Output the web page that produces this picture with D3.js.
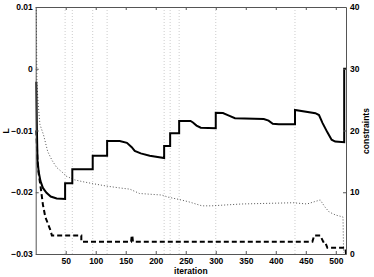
<!DOCTYPE html>
<html>
<head>
<meta charset="utf-8">
<script src="https://cdn.jsdelivr.net/npm/d3@7"></script>
<style>
  body { margin: 0; background: #fff; }
  svg text { font-family: "Liberation Sans", Arial, sans-serif; font-weight: bold; font-size: 8.5px; fill: #000; }
</style>
</head>
<body>
<svg id="chart" width="374" height="277"></svg>
<script>
// L (left axis)
var lIter = [1, 2, 3, 5, 8, 12, 18, 25, 35, 49, 49, 61, 61, 95, 95, 119, 119, 140, 152, 160, 165, 175, 190, 214, 214, 224, 224, 239, 239, 258, 262, 268, 275, 300, 300, 312, 320, 332, 380, 388, 395, 405, 432, 432, 466, 472, 478, 486, 493, 499, 514, 514, 517];
var lValue = [-0.0021, -0.0099, -0.0148, -0.0167, -0.0182, -0.0193, -0.0201, -0.0207, -0.0210, -0.0211, -0.01855, -0.01855, -0.01628, -0.01628, -0.01408, -0.01408, -0.0117, -0.0117, -0.0120, -0.0127, -0.0133, -0.0137, -0.0141, -0.01445, -0.01251, -0.01251, -0.01045, -0.01045, -0.00846, -0.00846, -0.0087, -0.0092, -0.00955, -0.00964, -0.00712, -0.00718, -0.0075, -0.0080, -0.00815, -0.0084, -0.0089, -0.0090, -0.0090, -0.00668, -0.0072, -0.0075, -0.0088, -0.0103, -0.0115, -0.0118, -0.0119, 0, 0];

// dotted series (right axis)
var dotIter = [1, 2, 4, 7, 13, 20, 27, 35, 46, 51, 65, 79, 95, 118, 140, 157, 166, 173, 195, 210, 221, 238, 255, 277, 293, 343, 429, 452, 474, 482, 489, 500, 512, 513];
var dotValue = [40, 27.7, 24.5, 21, 19.3, 16.6, 15.2, 14.0, 13.1, 12.6, 12.0, 11.7, 11.4, 11.0, 10.7, 10.5, 10.1, 9.8, 9.65, 9.55, 9.2, 8.85, 8.45, 7.8, 7.8, 8.1, 8.3, 8.1, 8.75, 7.6, 6.8, 6.3, 6.0, 0.2];

// dashed series (right axis)
var dashIter = [1, 3, 5, 8, 12, 16, 20, 24, 27, 76, 76, 159, 160, 161, 162, 461, 464, 474, 477, 479, 482, 486, 516, 517];
var dashValue = [20, 15, 13, 11, 8, 6, 5, 4, 3, 3, 2, 2, 3, 3, 2, 2, 3, 3, 2.4, 2, 2, 1, 1, 0];

var gridIter = [49, 61, 95, 119, 214, 224, 239, 300, 432];

var xTicks = [50, 100, 150, 200, 250, 300, 350, 400, 450, 500];
var lTicks = [0.01, 0, -0.01, -0.02, -0.03];
var cTicks = [0, 10, 20, 30, 40];

var svg = d3.select("#chart");
var plotLeft = 35.7, plotRight = 346, plotTop = 7, plotBottom = 254;

var x = d3.scaleLinear().domain([0, 517]).range([plotLeft, plotRight]);
var yL = d3.scaleLinear().domain([-0.03, 0.01]).range([plotBottom, plotTop]);
var yC = d3.scaleLinear().domain([0, 40]).range([plotBottom, plotTop]);

// grid lines at the steps
svg.append("g").selectAll("line")
    .data(gridIter)
    .enter()
    .append("line")
    .attr("x1", function(d){ return x(d); })
    .attr("x2", function(d){ return x(d); })
    .attr("y1", plotTop)
    .attr("y2", plotBottom)
    .attr("stroke", "#ccc")
    .attr("stroke-width", 1)
    .attr("stroke-dasharray", "1,2");

function pairs(it, vals){
    return it.map(function(d, i){ return [d, vals[i]]; });
}

var lineL = d3.line()
    .x(function(d){ return x(d[0]); })
    .y(function(d){ return yL(d[1]); });
var lineC = d3.line()
    .x(function(d){ return x(d[0]); })
    .y(function(d){ return yC(d[1]); });

svg.append("path")
    .attr("d", lineC(pairs(dotIter, dotValue)))
    .attr("fill", "none")
    .attr("stroke", "#555")
    .attr("stroke-width", 1)
    .attr("stroke-dasharray", "1,2");

svg.append("path")
    .attr("d", lineC(pairs(dashIter, dashValue)))
    .attr("fill", "none")
    .attr("stroke", "#000")
    .attr("stroke-width", 2)
    .attr("stroke-dasharray", "5,3");

svg.append("path")
    .attr("d", lineL(pairs(lIter, lValue)))
    .attr("fill", "none")
    .attr("stroke", "#000")
    .attr("stroke-width", 2);

// axes
function styleAxis(g){
    g.select(".domain").attr("stroke", "#555");
    g.selectAll(".tick line").attr("stroke", "#555");
    g.selectAll("text").attr("font-family", null).attr("font-size", null);
}

svg.append("g")
    .attr("transform", "translate(0," + plotBottom + ")")
    .call(d3.axisBottom(x).tickValues(xTicks).tickSize(-3).tickPadding(4).tickSizeOuter(0))
    .call(styleAxis);

svg.append("g")
    .attr("transform", "translate(0," + plotTop + ")")
    .call(d3.axisTop(x).tickValues(xTicks).tickSize(-3).tickFormat("").tickSizeOuter(0))
    .call(styleAxis);

svg.append("g")
    .attr("transform", "translate(" + plotLeft + ",0)")
    .call(d3.axisLeft(yL).tickValues(lTicks).tickSize(-3).tickPadding(3).tickSizeOuter(0)
        .tickFormat(function(d){ return d === 0 ? "0" : d3.format(".2f")(d).replace("-", "\u2212"); }))
    .call(styleAxis);

svg.append("g")
    .attr("transform", "translate(" + plotRight + ",0)")
    .call(d3.axisRight(yC).tickValues(cTicks).tickSize(-3).tickPadding(4).tickSizeOuter(0))
    .call(styleAxis);

// labels
svg.append("text")
    .attr("x", (plotLeft + plotRight) / 2)
    .attr("y", 274)
    .attr("text-anchor", "middle")
    .text("iteration");

svg.append("text")
    .attr("transform", "translate(9," + 131 + ") rotate(-90)")
    .attr("text-anchor", "middle")
    .text("L");

svg.append("text")
    .attr("transform", "translate(369," + 131 + ") rotate(-90)")
    .attr("text-anchor", "middle")
    .text("constraints");
</script>
</body>
</html>
